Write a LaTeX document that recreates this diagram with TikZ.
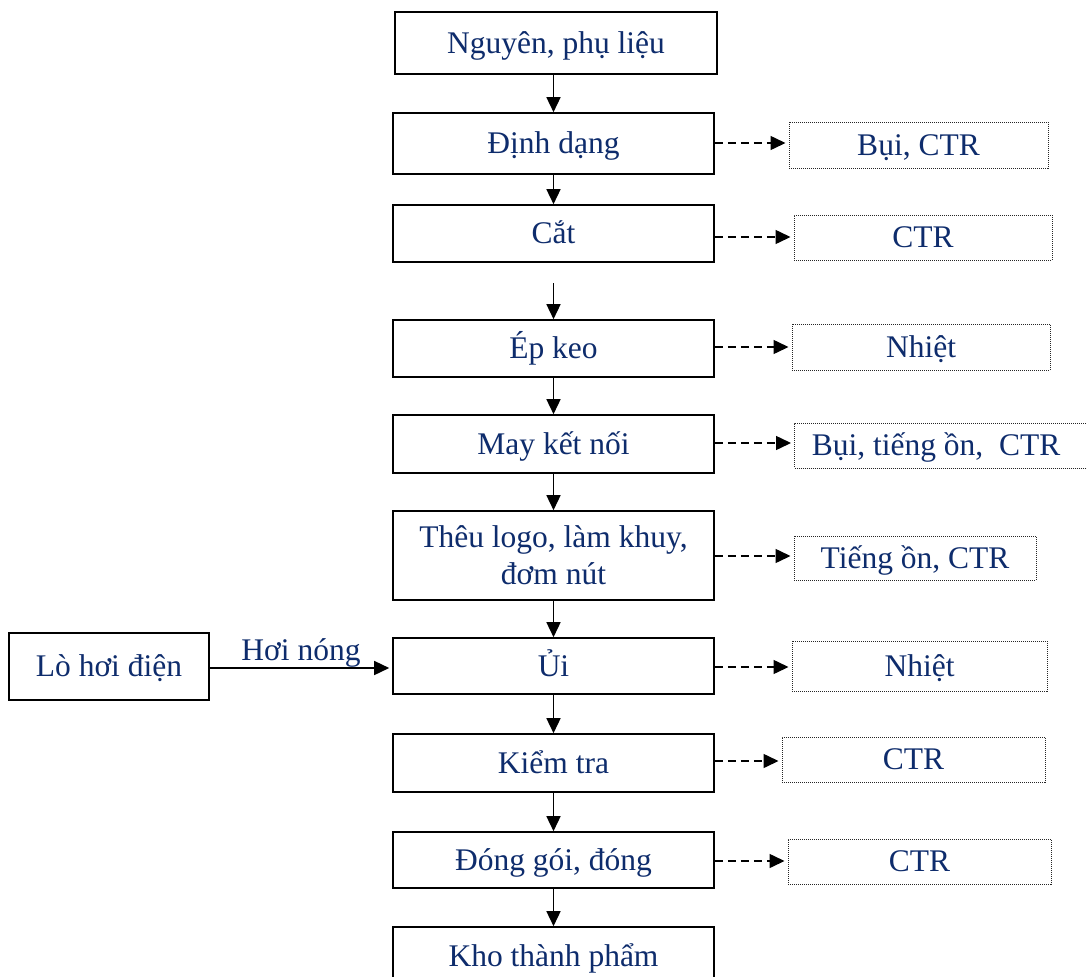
\documentclass[tikz,border=0pt]{standalone}
\usepackage{fontspec}
\setmainfont{Liberation Serif}
\usetikzlibrary{arrows.meta}
\definecolor{navy}{HTML}{0E2C6C}
\tikzset{
  txt/.style={font=\fontsize{31.5}{37}\selectfont, text=navy, text height=22pt, text depth=1.5pt, inner sep=0pt},
  mainbox/.style={draw=black, line width=1.6pt, fill=white, font=\fontsize{31.5}{37}\selectfont, text=navy, inner sep=0pt},
  mtxt/.style={mainbox, text height=22pt, text depth=1.5pt},
  sidebox/.style={draw=black!85, line width=1pt, densely dotted, font=\fontsize{31.5}{37}\selectfont, text=navy, inner sep=0pt, text height=22pt, text depth=1.5pt},
  flow/.style={line width=1.5pt, -{Triangle[length=15pt,width=14pt]}},
  dflow/.style={line width=1.5pt, dash pattern=on 8pt off 5pt, -{Triangle[length=15pt,width=14pt]}, shorten >=3pt}
}
\begin{document}
\begin{tikzpicture}[x=1pt,y=-1pt]
\useasboundingbox (0,0) rectangle (1087,977);
\clip (0,0) rectangle (1087,977);
% main column
\node[mtxt, minimum width=322pt, minimum height=62pt] (b1) at (556,43) {Nguyên, phụ liệu};
\node[mtxt, minimum width=321pt, minimum height=61pt] (b2) at (553.5,143.5) {Định dạng};
\node[mtxt, minimum width=321pt, minimum height=57pt] (b3) at (553.5,233.5) {Cắt};
\node[mtxt, minimum width=321pt, minimum height=57pt] (b4) at (553.5,348.5) {Ép keo};
\node[mtxt, minimum width=321pt, minimum height=58pt] (b5) at (553.5,444) {May kết nối};
\node[mainbox, align=center, minimum width=321pt, minimum height=89pt] (b6) at (553.5,555.5) {Thêu logo, làm khuy,\\đơm nút};
\node[mtxt, minimum width=321pt, minimum height=56pt] (b7) at (553.5,666) {Ủi};
\node[mtxt, minimum width=321pt, minimum height=58pt] (b8) at (553.5,763) {Kiểm tra};
\node[mtxt, minimum width=321pt, minimum height=56pt] (b9) at (553.5,860) {Đóng gói, đóng};
\node[mainbox, minimum width=321pt, minimum height=66pt] (b10) at (553.5,960) {};
\node[txt] (b10t) at (553.5,956) {Kho thành phẩm};
% vertical flow
\draw[flow] (b1.south -| b2) -- (b2);
\draw[flow] (b2) -- (b3);
\coordinate (c34) at (553.5,283);
\draw[flow] (c34) -- (b4);
\draw[flow] (b4) -- (b5);
\draw[flow] (b5) -- (b6);
\draw[flow] (b6) -- (b7);
\draw[flow] (b7) -- (b8);
\draw[flow] (b8) -- (b9);
\draw[flow] (b9) -- (b10);
% side boxes
\node[sidebox, minimum width=259pt, minimum height=46pt] (r1) at (918.5,145) {Bụi, CTR};
\node[sidebox, minimum width=258pt, minimum height=45pt] (r2) at (923,237.5) {CTR};
\node[sidebox, minimum width=258pt, minimum height=46pt] (r3) at (921,347) {Nhiệt};
\node[sidebox, minimum width=306pt, minimum height=45pt, anchor=west] (r4) at (794,445.5) {};
\node[txt] (r4t) at (936,445.5) {Bụi, tiếng ồn,\ \ CTR};
\node[sidebox, minimum width=242pt, minimum height=44pt] (r5) at (915,558) {Tiếng ồn, CTR};
\node[sidebox, minimum width=255pt, minimum height=50pt] (r6) at (919.5,666) {Nhiệt};
\node[sidebox, minimum width=263pt, minimum height=45pt] (r7) at (913.5,759.5) {CTR};
\node[sidebox, minimum width=263pt, minimum height=45pt] (r8) at (919.5,861.5) {CTR};
% dashed arrows
\draw[dflow] (b2.east |- 0,143) -- (r1.west |- 0,143);
\draw[dflow] (b3.east |- 0,237) -- (r2.west |- 0,237);
\draw[dflow] (b4.east |- 0,347) -- (r3.west |- 0,347);
\draw[dflow] (b5.east |- 0,443) -- (r4.west |- 0,443);
\draw[dflow] (b6.east |- 0,556) -- (r5.west |- 0,556);
\draw[dflow] (b7.east |- 0,667) -- (r6.west |- 0,667);
\draw[dflow] (b8.east |- 0,761) -- (r7.west |- 0,761);
\draw[dflow] (b9.east |- 0,861) -- (r8.west |- 0,861);
% boiler
\node[mtxt, minimum width=200pt, minimum height=67pt] (lo) at (109,666.5) {Lò hơi điện};
\draw[flow, shorten >=3pt] (lo.east |- 0,668) -- node[txt, above=5pt] (hn) {Hơi nóng} (b7.west |- 0,668);
\end{tikzpicture}
\end{document}
